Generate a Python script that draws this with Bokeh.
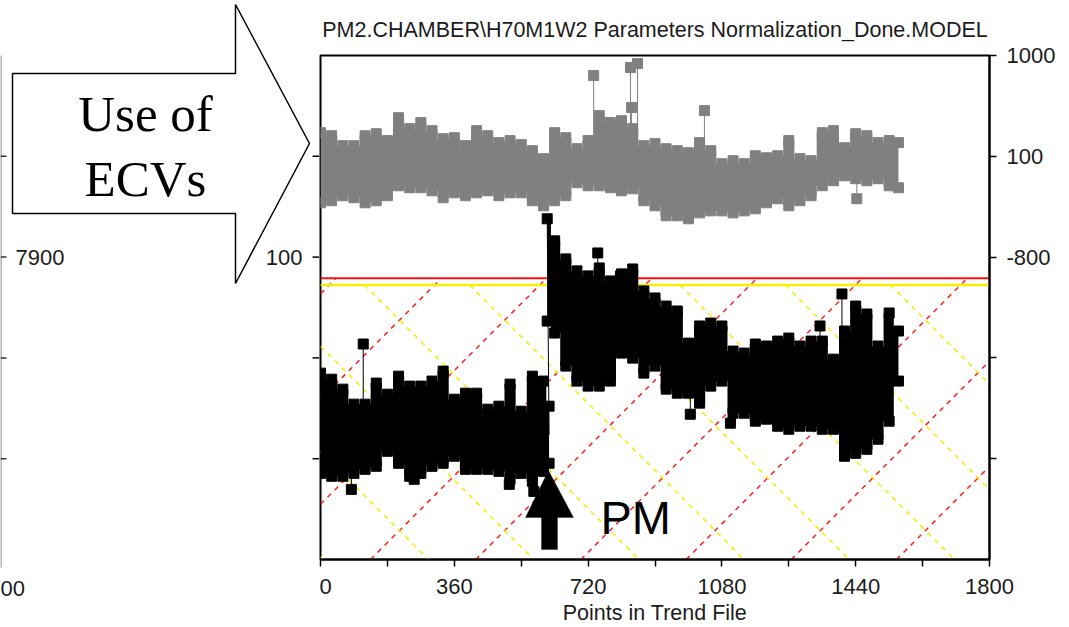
import numpy as np
from bokeh.plotting import figure
from bokeh.layouts import row
from bokeh.models import (Range1d, FixedTicker, Span, Label, PolyAnnotation)
from bokeh.core.properties import value
from bokeh.embed import file_html
from bokeh.resources import INLINE

# ---------------- data ----------------
x_ticks = [0, 180, 360, 540, 720, 900, 1080, 1260, 1440, 1620, 1800]
x_labels = {0: "0", 360: "360", 720: "720", 1080: "1080", 1440: "1440", 1800: "1800"}
y_ticks = [-2600, -1700, -800, 100, 1000]
right_labels = {1000: "1000", 100: "100", -800: "-800", -1700: "", -2600: ""}
left_tick_values = [-2600, -1700, -800, 100]
left_label_value, left_label_text = -800, "100"
side_label_text = "7900"
side_corner_text = "00"
red_limit = -989
yellow_limit = -1049

gray_x = list(range(0, 1531, 30)) + [1555]
gray_hi = [311, 284, 195, 195, 284, 302, 240, 445, 347, 401, 329, 257, 266, 195, 329, 284,
           222, 240, 204, 150, 79, 311, 266, 168, 240, 463, 401, 418, 347, 195, 213, 168,
           150, 132, 222, 150, 34, 61, 34, 105, 87, 105, 240, 79, 61, 311, 329, 177, 302,
           284, 222, 240, 222]
gray_lo = [-315, -297, -252, -270, -315, -297, -252, -163, -181, -181, -208, -270, -226,
           -252, -226, -208, -252, -226, -226, -297, -342, -297, -252, -136, -163, -163,
           -181, -208, -190, -297, -342, -431, -431, -458, -405, -387, -387, -405, -387,
           -369, -315, -279, -342, -297, -252, -163, -118, -74, -100, -118, -100, -163, -181]
gray_spike_x = [735, 834, 853, 837, 1033, 1443]
gray_spike_y = [821, 893, 928, 535, 508, -279]

blk1_x = list(range(0, 601, 30)) + [615]
blk1_hi = [-1836, -1890, -1979, -2113, -2113, -1925, -2024, -1863, -1952, -1952, -1907,
           -1818, -2069, -2015, -2015, -2158, -2131, -1934, -2176, -1863, -1907, -2131]
blk1_lo = [-2731, -2757, -2757, -2731, -2695, -2668, -2534, -2641, -2757, -2731, -2668,
           -2641, -2578, -2695, -2695, -2695, -2713, -2784, -2731, -2802, -2713, -2641]
blk1_spike_x = [115, 83, 574, 508, 252]
blk1_spike_y = [-1576, -2874, -2892, -2829, -2784]

blk2_x = [610, 630] + list(range(660, 1531, 30)) + [1555]
blk2_hi = [-458, -655, -816, -923, -968, -897, -1013, -950, -906, -1102, -1165, -1237,
           -1281, -1568, -1415, -1389, -1415, -1639, -1657, -1576, -1594, -1550, -1523,
           -1594, -1550, -1550, -1711, -1460, -1237, -1308, -1594, -1299, -1460]
blk2_lo = [-1371, -1478, -1773, -1907, -1952, -1952, -1907, -1657, -1702, -1836, -1773,
           -1979, -2015, -2015, -2104, -1952, -1907, -2194, -2194, -2265, -2247, -2310,
           -2337, -2310, -2310, -2337, -2337, -2578, -2552, -2516, -2426, -2265, -1907]
blk2_spike_x = [746, 807, 995, 1103, 1344, 1403]
blk2_spike_y = [-763, -968, -2203, -2283, -1415, -1129]

title_text = "PM2.CHAMBER\\H70M1W2 Parameters Normalization_Done.MODEL"
x_title = "Points in Trend File"
callout_lines = ["Use of", "ECVs"]
pm_text = "PM"

# ---------------- layout ----------------
W, H = 1069, 627
LW = 319                                   # width of the left strip
FL, FR, FT, FB = 320, 989, 55, 559         # frame edges on the page
XMIN, XMAX, YMIN, YMAX = 0, 1800, -3500, 1000
FONT = "Liberation Sans"
TXT = "#1c1c1c"
upp = (YMAX - YMIN) / (FB - FT)            # data units per pixel (y)

MW = W - LW
p = figure(width=MW, height=H, output_backend="svg", toolbar_location=None,
           x_range=Range1d(XMIN, XMAX), y_range=Range1d(YMIN, YMAX),
           y_axis_location="right",
           min_border_left=FL - LW, min_border_right=W - FR,
           min_border_top=FT, min_border_bottom=H - FB)
p.xgrid.visible = False
p.ygrid.visible = False
p.outline_line_color = "black"
p.outline_line_width = 2
p.border_fill_color = "white"
p.frame_align = False


def style_axis(ax, standoff):
    ax.axis_line_color = "black"
    ax.axis_line_width = 2
    ax.major_tick_line_color = "black"
    ax.major_tick_line_width = 1.5
    ax.major_tick_out = 7
    ax.major_tick_in = 0
    ax.minor_tick_line_color = None
    ax.major_label_text_font = FONT
    ax.major_label_text_font_size = "22px"
    ax.major_label_text_color = TXT
    ax.major_label_text_line_height = 1.0
    ax.major_label_standoff = standoff


xa = p.xaxis[0]
xa.ticker = FixedTicker(ticks=x_ticks)
xa.major_label_overrides = {t: x_labels.get(t, "") for t in x_ticks}
style_axis(xa, 12)
xa.axis_label = x_title
xa.axis_label_text_font = FONT
xa.axis_label_text_font_size = "21.5px"
xa.axis_label_text_font_style = "normal"
xa.axis_label_text_color = TXT
xa.axis_label_text_line_height = 1.0
xa.axis_label_standoff = 4

ya = p.yaxis[0]
ya.ticker = FixedTicker(ticks=y_ticks)
ya.major_label_overrides = right_labels
style_axis(ya, 10)
ya.major_label_text_align = "left"

p.title.text = title_text
p.title.text_font = FONT
p.title.text_font_size = "21.5px"
p.title.text_font_style = "normal"
p.title.text_color = TXT
p.title.text_line_height = 1.0
p.title.align = "center"
p.title.standoff = 27

# ---------------- alarm hatching (decoration) ----------------
k = ((YMAX - YMIN) / (FB - FT)) / ((XMAX - XMIN) / (FR - FL))   # 45 degrees on screen
xpp = (XMAX - XMIN) / (FR - FL)
step = 105.2 * xpp


def hatch(offset, top, sign):
    x0s, y0s, x1s, y1s = [], [], [], []
    span = (top - YMIN) / k
    c = offset - 12 * step
    while c < XMAX + span + step:
        xa_, xb_ = (c, c + span) if sign > 0 else (c - span, c)
        lo, hi = max(XMIN, xa_), min(XMAX, xb_)
        if lo < hi:
            x0s.append(lo); x1s.append(hi)
            y0s.append(YMIN + sign * k * (lo - c))
            y1s.append(YMIN + sign * k * (hi - c))
        c += step
    return x0s, y0s, x1s, y1s


rx0, ry0, rx1, ry1 = hatch(50 * xpp, red_limit, +1)
p.segment(rx0, ry0, rx1, ry1, line_color="#ff2020", line_width=1.5, line_dash="5 5",
          level="underlay")
gx0, gy0, gx1, gy1 = hatch(108 * xpp, yellow_limit, -1)
p.segment(gx0, gy0, gx1, gy1, line_color="#f2ee00", line_width=1.5, line_dash="5 5",
          level="underlay")

p.add_layout(Span(location=red_limit, dimension="width", line_color="#ff1010",
                  line_width=2, level="underlay"))
p.add_layout(Span(location=yellow_limit, dimension="width", line_color="#f5f000",
                  line_width=2.5, level="underlay"))


# ---------------- series ----------------
def band(xs, hi, lo, spx, spy, color):
    mid = (np.array(hi) + np.array(lo)) / 2.0
    base = np.interp(spx, xs, mid)
    p.segment(spx, spy, spx, base, line_color=color, line_width=1)
    p.varea_step(x=xs, y1=lo, y2=hi, step_mode="center", fill_color=color)
    for ys in (hi, lo):
        p.scatter(xs, ys, marker="square", size=10, fill_color=color, line_color=color)
    p.scatter(spx, spy, marker="square", size=10, fill_color=color, line_color=color)


band(gray_x, gray_hi, gray_lo, gray_spike_x, gray_spike_y, "#808080")
band(blk1_x, blk1_hi, blk1_lo, blk1_spike_x, blk1_spike_y, "#000000")
band(blk2_x, blk2_hi, blk2_lo, blk2_spike_x, blk2_spike_y, "#000000")
p.line([blk1_x[-1], blk2_x[0]], [(blk1_hi[-1] + blk1_lo[-1]) / 2, blk2_hi[0]],
       line_color="black", line_width=1)

# PM arrow inside the plot (canvas units of this figure)
ox = LW
p.add_layout(PolyAnnotation(xs=[548 - ox, 573 - ox, 557 - ox, 557 - ox, 541 - ox, 541 - ox, 525 - ox],
                            ys=[470, 517, 517, 549, 549, 517, 517],
                            xs_units="canvas", ys_units="canvas",
                            fill_color="black", fill_alpha=1.0,
                            line_color="black", line_width=1))
p.add_layout(Label(x=600 - ox, y=517, x_units="canvas", y_units="canvas", text=pm_text,
                   text_font=FONT, text_font_size="47px", text_color="black",
                   text_baseline="middle"))

# ---------------- left strip: callout arrow, left ticks, neighbour axis ----------------
L = figure(width=LW, height=H, output_backend="svg", toolbar_location=None,
           x_range=Range1d(0, LW),
           y_range=Range1d(YMIN - (H - FB) * upp, YMAX + FT * upp),
           x_axis_location=None, y_axis_location=None,
           min_border=0, min_border_left=0, min_border_right=0,
           min_border_top=0, min_border_bottom=0)
L.frame_align = False
L.xgrid.visible = False
L.ygrid.visible = False
L.outline_line_color = None
L.border_fill_color = "white"
L.extra_y_ranges = {"px": Range1d(H, 0)}

# ticks of the main plot's left axis and its one label
L.segment(x0=[312] * len(left_tick_values), y0=left_tick_values,
          x1=[LW] * len(left_tick_values), y1=left_tick_values,
          line_color="black", line_width=1.5)
L.text(x=[302], y=[left_label_value], text=[left_label_text], text_font=value(FONT),
       text_font_size="22px", text_color=TXT, text_align="right", text_baseline="middle")

# neighbouring chart's axis at the far left
L.segment(x0=[0.5], y0=[55], x1=[0.5], y1=[567], y_range_name="px",
          line_color="#9a9a9a", line_width=1.5)
L.segment(x0=[0] * len(left_tick_values), y0=left_tick_values,
          x1=[6] * len(left_tick_values), y1=left_tick_values,
          line_color="#333333", line_width=1.5)
L.text(x=[15], y=[left_label_value], text=[side_label_text], text_font=value(FONT),
       text_font_size="22px", text_color=TXT, text_align="left", text_baseline="middle")
L.text(x=[0], y=[588], text=[side_corner_text], y_range_name="px", text_font=value(FONT),
       text_font_size="22px", text_color=TXT, text_align="left", text_baseline="middle")

# "Use of ECVs" block arrow
L.patch(x=[12, 235, 235, 309, 235, 235, 12], y=[73, 73, 4, 143, 283, 213, 213],
        y_range_name="px", fill_color="white", line_color="black", line_width=1.5)
L.text(x=[145, 145], y=[113, 178], text=callout_lines, y_range_name="px",
       text_font=value("Liberation Serif"), text_font_size="51px", text_color="black",
       text_align="center", text_baseline="middle")

layout = row(L, p, spacing=0)
open("out.html", "w").write(file_html(layout, INLINE))
